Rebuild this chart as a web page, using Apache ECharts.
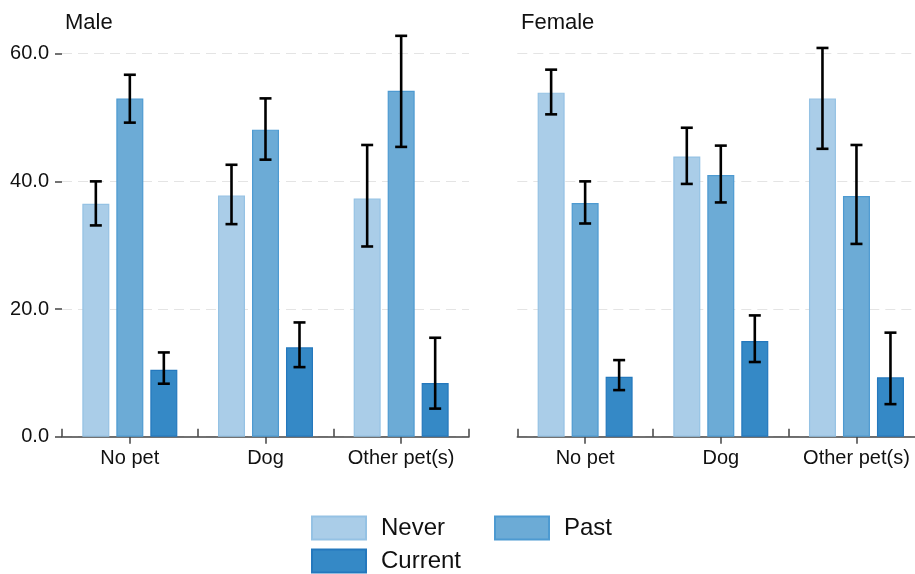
<!DOCTYPE html>
<html>
<head>
<meta charset="utf-8">
<script src="https://cdn.jsdelivr.net/npm/echarts@6/dist/echarts.min.js"></script>
<style>html,body{margin:0;padding:0;background:#fff;}#c{width:915px;height:574px;}</style>
</head>
<body>
<div id="c"></div>
<script>
// ---- data ----
const categories = ['No pet', 'Dog', 'Other pet(s)'];
const groups = ['Never', 'Past', 'Current'];
const panelTitles = ['Male', 'Female'];
const yTicks = [0, 20, 40, 60];

const maleNever   = [36.5, 37.8, 37.3];
const malePast    = [53.0, 48.1, 54.2];
const maleCurrent = [10.5, 14.0, 8.4];
const maleNeverLow    = [33.1, 33.3, 29.8];
const maleNeverHigh   = [40.0, 42.6, 45.7];
const malePastLow     = [49.2, 43.4, 45.4];
const malePastHigh    = [56.7, 53.0, 62.8];
const maleCurrentLow  = [8.3, 10.9, 4.4];
const maleCurrentHigh = [13.2, 17.9, 15.5];

const femaleNever   = [53.9, 43.9, 53.0];
const femalePast    = [36.6, 41.0, 37.7];
const femaleCurrent = [9.4, 15.0, 9.3];
const femaleNeverLow    = [50.5, 39.6, 45.1];
const femaleNeverHigh   = [57.5, 48.4, 60.9];
const femalePastLow     = [33.4, 36.7, 30.2];
const femalePastHigh    = [40.0, 45.6, 45.7];
const femaleCurrentLow  = [7.3, 11.7, 5.1];
const femaleCurrentHigh = [12.0, 19.0, 16.3];

// ---- styles ----
const fills   = ['#aacde8', '#6cabd6', '#3589c6'];
const borders = ['#95c2e4', '#4d9ad1', '#2478bd'];
const BAR_W = 27;
const BAR_GAP_PX = 7;
const AXIS_COLOR = '#444';
const FONT = 'Liberation Sans, Arial, sans-serif';

const panels = [
  { vals: [maleNever, malePast, maleCurrent],
    lows: [maleNeverLow, malePastLow, maleCurrentLow],
    highs: [maleNeverHigh, malePastHigh, maleCurrentHigh] },
  { vals: [femaleNever, femalePast, femaleCurrent],
    lows: [femaleNeverLow, femalePastLow, femaleCurrentLow],
    highs: [femaleNeverHigh, femalePastHigh, femaleCurrentHigh] }
];

const gridLefts = [62, 517.3];
const grids = gridLefts.map(l => ({ left: l, width: 407, top: 53.7, bottom: 137.3, containLabel: false, outerBoundsMode: 'none' }));

const xAxes = [];
const yAxes = [];
panels.forEach((p, gi) => {
  xAxes.push({
    type: 'category', gridIndex: gi, data: categories, position: 'bottom',
    axisLine: { show: true, lineStyle: { color: AXIS_COLOR, width: 1.5 } },
    axisTick: { show: true, inside: true, length: 8, interval: 0, lineStyle: { color: AXIS_COLOR, width: 1.5 } },
    axisLabel: { show: false }, splitLine: { show: false }
  });
  xAxes.push({
    type: 'category', gridIndex: gi, data: categories, position: 'bottom',
    axisLine: { show: false },
    axisTick: { show: true, alignWithLabel: true, interval: 0, length: 7, lineStyle: { color: AXIS_COLOR, width: 1.5 } },
    axisLabel: { show: true, interval: 0, hideOverlap: false, fontSize: 20, color: '#111', fontFamily: FONT, margin: 12 },
    splitLine: { show: false }
  });
  yAxes.push({
    type: 'value', gridIndex: gi, min: 0, max: 60, interval: 20,
    axisLine: { show: true, lineStyle: { color: 'rgba(0,0,0,0)' } },
    axisTick: { show: gi === 0, length: 7, lineStyle: { color: AXIS_COLOR, width: 1.5 } },
    axisLabel: { show: gi === 0, fontSize: 20, color: '#111', fontFamily: FONT, margin: 13,
                 formatter: v => yTicks.includes(v) ? v.toFixed(1) : '' },
    splitLine: { show: true, lineStyle: { color: '#e4e4e4', width: 1, type: [10, 6] } }
  });
});

const series = [];
panels.forEach((p, gi) => {
  groups.forEach((g, si) => {
    series.push({
      name: g, type: 'bar', xAxisIndex: gi * 2, yAxisIndex: gi,
      data: p.vals[si], barWidth: BAR_W, barGap: (BAR_GAP_PX / BAR_W * 100).toFixed(1) + '%',
      itemStyle: { color: fills[si], borderColor: borders[si], borderWidth: 1.2 },
      emphasis: { disabled: true }, z: 2
    });
  });
  const errData = [];
  groups.forEach((g, si) => {
    categories.forEach((c, ci) => {
      errData.push([ci, p.lows[si][ci], p.highs[si][ci], si]);
    });
  });
  series.push({
    type: 'custom', xAxisIndex: gi * 2, yAxisIndex: gi, clip: false, z: 5,
    data: errData,
    renderItem: function (params, api) {
      const ci = api.value(0), lo = api.value(1), hi = api.value(2), si = api.value(3);
      const off = (si - 1) * (BAR_W + BAR_GAP_PX);
      const pLo = api.coord([ci, lo]);
      const pHi = api.coord([ci, hi]);
      const x = pLo[0] + off;
      const half = 6;
      const st = { stroke: '#000', lineWidth: 2.6 };
      return {
        type: 'group',
        children: [
          { type: 'line', shape: { x1: x, y1: pLo[1], x2: x, y2: pHi[1] }, style: st },
          { type: 'line', shape: { x1: x - half, y1: pLo[1], x2: x + half, y2: pLo[1] }, style: st },
          { type: 'line', shape: { x1: x - half, y1: pHi[1], x2: x + half, y2: pHi[1] }, style: st }
        ]
      };
    }
  });
});

const legendPos = [[311, 515.5], [494, 515.5], [311, 548.5]];
const legends = groups.map((g, i) => ({
  data: [g], left: legendPos[i][0], top: legendPos[i][1], padding: 0,
  itemWidth: 54, itemHeight: 23, itemGap: 0, icon: 'rect',
  selectedMode: false,
  textStyle: { fontSize: 24, color: '#111', fontFamily: FONT, padding: [0, 0, 0, 10] }
}));

const titles = panelTitles.map((t, i) => ({
  text: t, left: [65, 521][i], top: 12, padding: 0,
  textStyle: { fontSize: 22, fontWeight: 'normal', color: '#111', fontFamily: FONT }
}));

const chart = echarts.init(document.getElementById('c'), null, { renderer: 'canvas' });
chart.setOption({
  animation: false,
  backgroundColor: '#fff',
  title: titles,
  legend: legends,
  grid: grids,
  xAxis: xAxes,
  yAxis: yAxes,
  series: series
});
</script>
</body>
</html>
